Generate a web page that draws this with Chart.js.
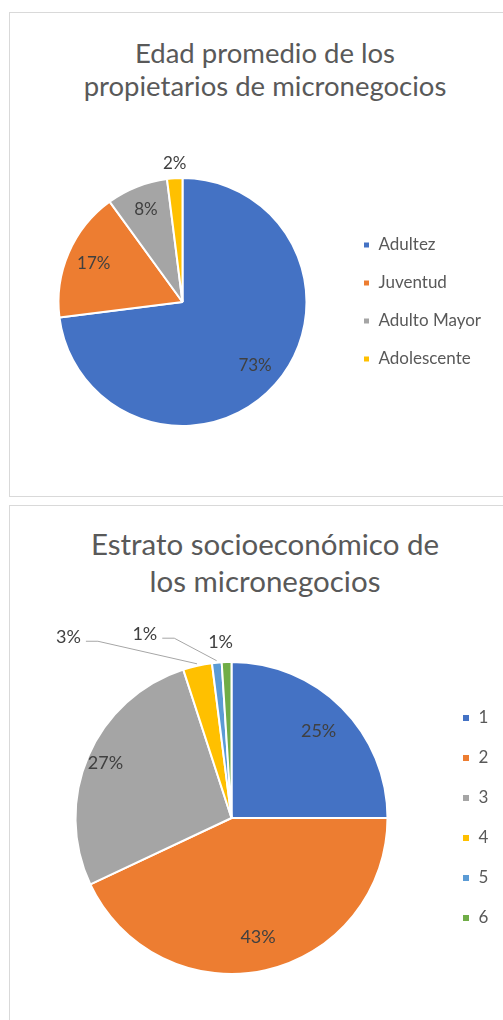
<!DOCTYPE html>
<html>
<head>
<meta charset="utf-8">
<script src="https://cdn.jsdelivr.net/npm/chart.js@4.4.1/dist/chart.umd.min.js"></script>
<style>
  html, body { margin: 0; padding: 0; background: #fff; overflow: hidden; width: 503px; height: 1020px; }
  .box { position: absolute; border: 1px solid #d9d9d9; background: #fff; }
  .title { position: absolute; left: 0; width: 530px; text-align: center; font-family: Lato, sans-serif; color: #595959; }
  canvas { position: absolute; }
</style>
</head>
<body>
<div class="box" style="left:9px; top:12px; width:540px; height:483px;"></div>
<div class="box" style="left:9px; top:505px; width:540px; height:540px;"></div>

<div class="title" style="top:37px; font-size:27.5px; line-height:32.5px;">Edad promedio de los<br>propietarios de micronegocios</div>
<div class="title" style="top:525px; font-size:29.5px; line-height:37px;">Estrato socioeconómico de<br>los micronegocios</div>

<canvas id="edad" width="493" height="482" style="left:10px; top:13px;"></canvas>
<canvas id="estrato" width="493" height="514" style="left:10px; top:506px;"></canvas>

<script>
// Chart data
const edadLabels = ["Adultez", "Juventud", "Adulto Mayor", "Adolescente"];
const edadValues = [73, 17, 8, 2];

const estratoLabels = ["1", "2", "3", "4", "5", "6"];
const estratoValues = [25, 43, 27, 3, 1, 1];

const officeColors = ["#4472C4", "#ED7D31", "#A5A5A5", "#FFC000", "#5B9BD5", "#70AD47"];

// Where each percentage goes: inside = fraction of radius, otherwise offset from the slice edge
const edadPlacement = [
    { inside: 0.78 }, { inside: 0.78 }, { inside: 0.8 },
    { dx: 0, dy: -15 }
];
const estratoPlacement = [
    { inside: 0.79 }, { inside: 0.78 }, { inside: 0.88 },
    { dx: -129, dy: -29, leader: true },
    { dx: -72, dy: -29, leader: true },
    { dx: -6, dy: -20 }
];

// Draws the percentage labels (and leader lines) from the arc geometry
const pieLabels = {
    id: "pieLabels",
    afterDatasetsDraw(chart, args, opts) {
        const ctx = chart.ctx;
        const meta = chart.getDatasetMeta(0);
        const values = chart.data.datasets[0].data;
        ctx.save();
        ctx.font = opts.size + "px Lato";
        ctx.fillStyle = "#404040";
        ctx.textAlign = "center";
        ctx.textBaseline = "middle";
        meta.data.forEach((arc, i) => {
            const { x, y, startAngle, endAngle, outerRadius } =
                arc.getProps(["x", "y", "startAngle", "endAngle", "outerRadius"], true);
            const mid = (startAngle + endAngle) / 2;
            const place = opts.placement[i];
            const text = values[i] + "%";
            let lx, ly;
            if (place.inside) {
                lx = x + Math.cos(mid) * outerRadius * place.inside;
                ly = y + Math.sin(mid) * outerRadius * place.inside;
            } else {
                lx = x + Math.cos(mid) * outerRadius + place.dx;
                ly = y + Math.sin(mid) * outerRadius + place.dy;
                if (place.leader) {
                    const w = ctx.measureText(text).width;
                    const sx = lx + w / 2 + 5;
                    const sy = ly + 4.5;
                    ctx.beginPath();
                    ctx.moveTo(sx, sy);
                    ctx.lineTo(sx + 12, sy);
                    ctx.lineTo(x + Math.cos(mid) * (outerRadius + 2), y + Math.sin(mid) * (outerRadius + 2));
                    ctx.strokeStyle = "#A6A6A6";
                    ctx.lineWidth = 1;
                    ctx.stroke();
                }
            }
            ctx.fillText(text, lx, ly);
        });
        ctx.restore();
    }
};

// Right padding so the legend items start at itemX
function legendPadRight(canvasW, itemX, labels, size, boxW) {
    const ctx = document.createElement("canvas").getContext("2d");
    ctx.font = "normal " + size + "px Lato";
    const textW = Math.max(...labels.map(t => ctx.measureText(t).width));
    return canvasW - itemX - (boxW + size / 2 + textW) - 10;
}

function makePie(id, labels, values, cfg) {
    const canvas = document.getElementById(id);
    return new Chart(canvas, {
        type: "pie",
        data: {
            labels,
            datasets: [{
                data: values,
                backgroundColor: officeColors.slice(0, values.length),
                borderColor: "#ffffff",
                borderWidth: 2
            }]
        },
        options: {
            responsive: false,
            animation: false,
            devicePixelRatio: 1,
            events: [],
            layout: {
                padding: {
                    left: cfg.padLeft,
                    top: cfg.padTop,
                    bottom: cfg.padBottom,
                    right: legendPadRight(canvas.width, cfg.itemX, labels, cfg.fontSize, cfg.box)
                }
            },
            plugins: {
                title: { display: false },
                tooltip: { enabled: false },
                legend: {
                    position: "right",
                    fullSize: false,
                    labels: {
                        boxWidth: cfg.box,
                        boxHeight: cfg.box,
                        padding: cfg.gap,
                        color: "#595959",
                        font: { family: "Lato", size: cfg.fontSize }
                    }
                },
                pieLabels: { size: cfg.labelSize, placement: cfg.placement }
            }
        },
        plugins: [pieLabels]
    });
}

makePie("edad", edadLabels, edadValues, {
    padLeft: 13, padTop: 164, padBottom: 68,
    itemX: 353, gap: 21, box: 7, fontSize: 17,
    labelSize: 17, placement: edadPlacement
});

makePie("estrato", estratoLabels, estratoValues, {
    padLeft: 14, padTop: 155, padBottom: 45,
    itemX: 452, gap: 23, box: 8, fontSize: 17,
    labelSize: 18, placement: estratoPlacement
});
</script>
</body>
</html>
